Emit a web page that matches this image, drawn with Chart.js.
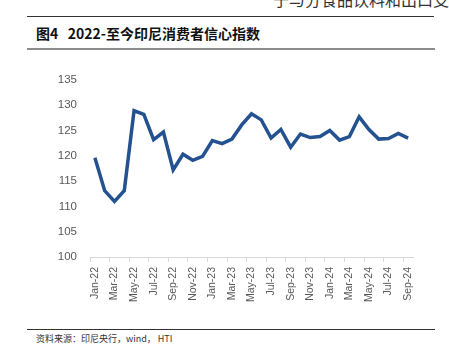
<!DOCTYPE html>
<html>
<head>
  <meta charset="utf-8" />
  <title>2022-至今印尼消费者信心指数</title>
  <script src="https://cdn.jsdelivr.net/npm/chart.js"></script>
  <style>
    body {
      margin: 0;
      width: 449px;
      height: 359px;
      background: #ffffff;
      position: relative;
      overflow: hidden;
      font-family: "Noto Sans CJK SC", "Noto Sans", sans-serif;
    }
    #top-text {
      position: absolute;
      top: -13px;
      left: 273px;
      font-size: 16px;
      color: #333;
      white-space: nowrap;
    }
    #top-line {
      position: absolute; left: 27px; top: 16px; width: 407px; height: 1px; background: #333;
    }
    #title {
      position: absolute; left: 36px; top: 23px;
      font-size: 14px; font-weight: bold; color: #111;
      white-space: nowrap;
    }
    #title-line {
      position: absolute; left: 27px; top: 48px; width: 408px; height: 2px; background: #8c8c8c;
    }
    #chart-box {
      position: absolute; left: 0; top: 60px; width: 449px; height: 265px;
    }
    #bottom-line {
      position: absolute; left: 27px; top: 329px; width: 408px; height: 1px; background: #333;
    }
    #source {
      position: absolute; left: 36px; top: 332px;
      font-size: 9px; color: #333; white-space: nowrap;
    }
  </style>
</head>
<body>
  <div id="top-text">于与分食品饮料和出口支持</div>
  <div id="top-line"></div>
  <div id="title">图4&nbsp;&nbsp; 2022-至今印尼消费者信心指数</div>
  <div id="title-line"></div>
  <div id="chart-box"><canvas id="cci-chart"></canvas></div>
  <div id="bottom-line"></div>
  <div id="source">资料来源：印尼央行，wind， HTI</div>
  <script>
    // months Jan-22 .. Sep-24
    const months = [
      'Jan-22', 'Feb-22', 'Mar-22', 'Apr-22', 'May-22', 'Jun-22', 'Jul-22', 'Aug-22', 'Sep-22', 'Oct-22', 'Nov-22', 'Dec-22',
      'Jan-23', 'Feb-23', 'Mar-23', 'Apr-23', 'May-23', 'Jun-23', 'Jul-23', 'Aug-23', 'Sep-23', 'Oct-23', 'Nov-23', 'Dec-23',
      'Jan-24', 'Feb-24', 'Mar-24', 'Apr-24', 'May-24', 'Jun-24', 'Jul-24', 'Aug-24', 'Sep-24'
    ];
    // consumer confidence index
    const cciValues = [
      119.6, 113.1, 111.0, 113.1, 128.9, 128.2, 123.2, 124.7, 117.2, 120.3, 119.1, 119.9,
      123.0, 122.4, 123.3, 126.1, 128.3, 127.1, 123.5, 125.2, 121.7, 124.3, 123.6, 123.8,
      125.0, 123.1, 123.8, 127.7, 125.2, 123.3, 123.4, 124.4, 123.5
    ];
    const yTicks = [100, 105, 110, 115, 120, 125, 130, 135];

    const axisFont = { family: 'Liberation Sans', size: 10.5 };

    new Chart(document.getElementById('cci-chart'), {
      type: 'line',
      data: {
        labels: months,
        datasets: [{
          data: cciValues,
          borderColor: '#245290',
          borderWidth: 3.5,
          pointRadius: 0,
          tension: 0,
          fill: false
        }]
      },
      options: {
        responsive: true,
        maintainAspectRatio: false,
        animation: false,
        plugins: { legend: { display: false }, tooltip: { enabled: false } },
        layout: { padding: { left: 0, right: 36, top: 17, bottom: 0 } },
        scales: {
          x: {
            offset: true,
            border: { color: '#d9d9d9', width: 1 },
            grid: {
              offset: true,
              drawOnChartArea: false,
              drawTicks: true,
              tickLength: 5,
              color: (ctx) => (ctx.index % 2 === 0 ? '#d9d9d9' : 'rgba(0,0,0,0)')
            },
            ticks: {
              autoSkip: false,
              maxRotation: 90,
              minRotation: 90,
              padding: 5,
              color: '#595959',
              font: axisFont,
              callback: (val, i) => (i % 2 === 0 ? months[i] : '')
            },
            afterFit: (scale) => { scale.height = 68; }
          },
          y: {
            min: 100,
            max: 135,
            border: { display: false },
            grid: { display: false, drawTicks: false },
            afterBuildTicks: (scale) => { scale.ticks = yTicks.map(v => ({ value: v })); },
            ticks: {
              padding: 13,
              color: '#595959',
              font: { family: 'Liberation Sans', size: 11.5 }
            },
            afterFit: (scale) => { scale.width = 90; }
          }
        }
      }
    });
  </script>
</body>
</html>
